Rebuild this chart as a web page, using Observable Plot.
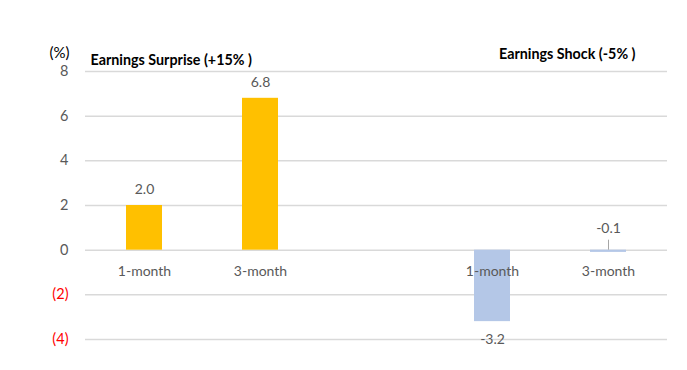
<!DOCTYPE html>
<html>
<head>
<meta charset="utf-8">
<script src="https://cdn.jsdelivr.net/npm/d3@7"></script>
<script src="https://cdn.jsdelivr.net/npm/@observablehq/plot@0.6"></script>
<style>
  html, body { margin: 0; padding: 0; background: #fff; }
  #chart { width: 687px; height: 370px; }
</style>
</head>
<body>
<div id="chart"></div>
<script>
// ---- data ----
const groups = ["Earnings Surprise (+15% )", "Earnings Shock (-5% )"];
const periods = ["1-month", "3-month"];
const surprise = [2.0, 6.8];
const shock = [-3.2, -0.1];
const yTicks = [-4, -2, 0, 2, 4, 6, 8];
const yLabel = "(%)";
const colors = ["#FFC000", "#B4C7E7"];

// build table
const rows = [];
periods.forEach((p, i) => rows.push({key: "S|" + p, period: p, value: surprise[i], group: 0}));
periods.forEach((p, i) => rows.push({key: "K|" + p, period: p, value: shock[i], group: 1}));
const xDomain = ["S|1-month", "S|3-month", "gap", "K|1-month", "K|3-month"];

const font = "Lato, 'Open Sans', sans-serif";
const gray = "#595959";
const fmtTick = d => d < 0 ? `(${-d})` : `${d}`;
const small = d => Math.abs(d.value) < 0.5;

const chart = Plot.plot({
  width: 687,
  height: 370,
  marginLeft: 85,
  marginRight: 20,
  marginTop: 71,
  marginBottom: 31,
  style: {fontFamily: font, fontSize: "14px", background: "#fff"},
  x: {domain: xDomain, paddingInner: 0.69, paddingOuter: 0.345, axis: null},
  y: {domain: [-4, 8], axis: null},
  marks: [
    Plot.ruleY(yTicks, {stroke: "#d9d9d9", strokeWidth: 1.5}),
    Plot.barY(rows, {x: "key", y: "value", fill: d => colors[d.group]}),
    // y tick labels
    Plot.text(yTicks, {y: d => d, text: fmtTick, frameAnchor: "left", textAnchor: "end", dx: -17,
      fill: d => d < 0 ? "#FF0000" : gray, fontSize: 14.5}),
    // category labels along zero line
    Plot.text(rows, {x: "key", y: 0, text: "period", dy: 21, fill: gray, fontSize: 14}),
    // value labels
    Plot.text(rows.filter(d => d.value >= 0), {x: "key", y: "value", text: d => d.value.toFixed(1), dy: -16, fill: gray, fontSize: 14}),
    Plot.text(rows.filter(d => d.value < 0 && !small(d)), {x: "key", y: "value", text: d => d.value.toFixed(1), dy: 18, fill: gray, fontSize: 14}),
    Plot.text(rows.filter(d => d.value < 0 && small(d)), {x: "key", y: 0, text: d => d.value.toFixed(1), dy: -22, fill: gray, fontSize: 14}),
    Plot.ruleX(rows.filter(d => d.value < 0 && small(d)), {x: "key", y1: 0, y2: 0, insetTop: -10, stroke: "#a6a6a6", strokeWidth: 1}),
    // titles
    Plot.text([groups[0]], {frameAnchor: "top-left", textAnchor: "start", dx: 5, dy: -17, text: d => d, fontWeight: "bold", fill: "#000", fontSize: 14.3}),
    Plot.text([groups[1]], {frameAnchor: "top-right", textAnchor: "end", dx: -32, dy: -23, text: d => d, fontWeight: "bold", fill: "#000", fontSize: 14.3}),
    Plot.text([yLabel], {frameAnchor: "top-left", textAnchor: "middle", dx: -26, dy: -24, text: d => d, fill: "#000", fontSize: 15})
  ]
});
document.getElementById("chart").appendChild(chart);
</script>
</body>
</html>
